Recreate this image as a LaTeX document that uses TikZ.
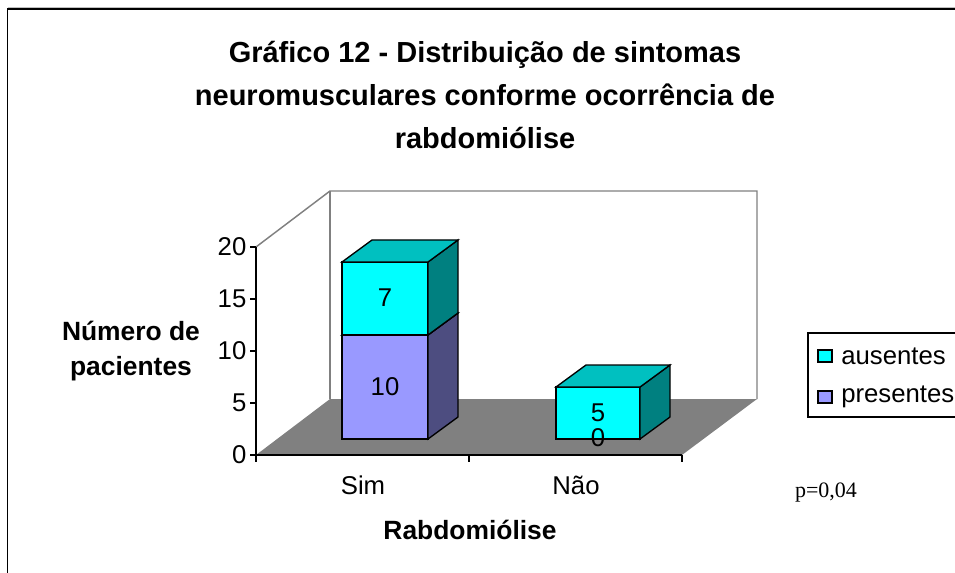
\documentclass[tikz,border=0pt]{standalone}
\usepackage{fontspec}
\setmainfont{Liberation Sans}
\newfontfamily\timesp{Liberation Serif}
\usetikzlibrary{positioning}
\definecolor{ciano}{HTML}{00FFFF}
\definecolor{cianotopo}{HTML}{00C0C0}
\definecolor{cianolado}{HTML}{008080}
\definecolor{lilas}{HTML}{9999FF}
\definecolor{lilaslado}{HTML}{4D4D80}
\definecolor{piso}{HTML}{808080}
\newcommand\bloco[7]{%% left, right, bottom, top, front, side, top colour
\filldraw[fill=#5] (#1,#3) rectangle (#2,#4);
\filldraw[fill=#6] (#2,#3) -- (#2+30,#3-22) -- (#2+30,#4-22) -- (#2,#4) -- cycle;
\filldraw[fill=#7] (#1,#4) -- (#1+30,#4-22) -- (#2+30,#4-22) -- (#2,#4) -- cycle;}

\begin{document}
\begin{tikzpicture}[x=0.75pt,y=-0.75pt,line width=1pt]
\useasboundingbox (0,0) rectangle (955,573);
\tikzstyle{rotulo}=[font=\fontsize{19.3}{26}\selectfont,inner sep=0pt]
\tikzstyle{negrito}=[font=\bfseries\fontsize{19.8}{26.5}\selectfont,inner sep=0pt,align=center]
\tikzstyle{amostra}=[draw,inner sep=0pt,minimum width=10.5pt,minimum height=9pt,line width=.9pt]
%% frame
\draw[line width=1.2pt] (7.5,573) -- (7.5,9) -- (955,9);
\draw[gray!50,line width=.8pt] (7.5,7.5) -- (955,7.5);
%% floor and walls
\fill[piso] (256,455) -- (682,455) -- (757,399) -- (330,399) -- cycle;
\draw[piso,line width=1.1pt] (256,247) -- (330,191) -- (757,191) -- (757,399);
\draw[piso,line width=1.1pt] (330,191) -- (330,399);
%% axes
\draw (256,455) -- (256,247);
\draw (256,455) -- (682,455);
\foreach \t/\v in {0/0,1/5,2/10,3/15,4/20}{
  \draw (250,455-52*\t) -- (256,455-52*\t);
  \node[rotulo,anchor=east] (y\t) at (247,455-52*\t) {\v};}
\foreach \x in {256,469,682}
  \draw (\x,455) -- (\x,462);
%% bars
\bloco{342}{428}{439}{335}{lilas}{lilaslado}{lilas}
\bloco{342}{428}{335}{262}{ciano}{cianolado}{cianotopo}
\bloco{556}{640}{439}{387}{ciano}{cianolado}{cianotopo}
\node[rotulo] (simP) at (385,387) {10};
\node[rotulo] (simA) at (385,298) {7};
\node[rotulo] (naoA) at (598,413) {5};
\node[rotulo] (naoP) at (598,438) {0};
%% labels
\node[font=\bfseries\fontsize{21.75}{31.9}\selectfont,align=center,inner sep=0pt] (titulo) at (485,95)
  {Gráfico 12 - Distribuição de sintomas\\neuromusculares conforme ocorrência de\\rabdomiólise};
\node[rotulo] (sim) at (363,485) {Sim};
\node[rotulo] (nao) at (576,485) {Não};
\node[negrito] (eixox) at (470,530) {Rabdomiólise};
\node[negrito] (eixoy) at (131,351) {Número de\\pacientes};
\node[font=\timesp\fontsize{16.5}{20}\selectfont,inner sep=0pt] (pval) at (826,493) {p=0,04};
%% legend
\draw[line width=.8pt] (955,333) -- (808,333) -- (808,417) -- (955,417);
\node[amostra,fill=ciano] (lgA) at (825,356) {};
\node[amostra,fill=lilas] (lgP) at (825,397) {};
\node[rotulo,right=6pt of lgA] (lgAt) {ausentes};
\node[rotulo,right=6pt of lgP] (lgPt) {presentes};
\end{tikzpicture}
\end{document}
